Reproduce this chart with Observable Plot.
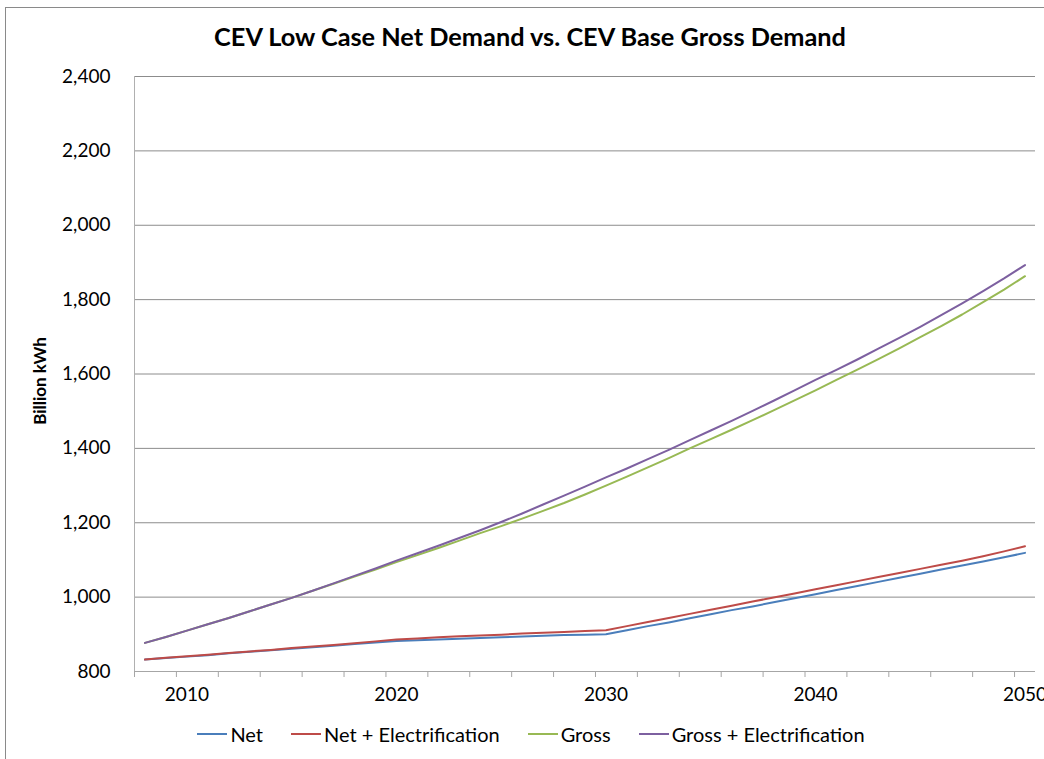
<!DOCTYPE html>
<html>
<head>
<meta charset="utf-8">
<script src="https://cdn.jsdelivr.net/npm/d3@7"></script>
<script src="https://cdn.jsdelivr.net/npm/@observablehq/plot@0.6"></script>
<style>
  html, body { margin: 0; padding: 0; background: #fff; }
  #wrap { position: relative; width: 1044px; height: 759px; overflow: hidden; font-family: Lato, "Open Sans", sans-serif; }
  #frame { position: absolute; left: 5px; top: 7px; width: 1100px; height: 800px; border-left: 1px solid #8a8a8a; border-top: 1px solid #8a8a8a; }
  #chart { position: absolute; left: 0; top: 0; }
  #legend { position: absolute; left: 0; top: 722px; width: 1062px; display: flex; justify-content: center; align-items: center; font-size: 20px; color: #000; }
  .item { display: flex; align-items: center; margin: 0 14px; }
  .item svg { margin-right: 3px; }
</style>
</head>
<body>
<div id="wrap">
  <div id="frame"></div>
  <div id="chart"></div>
  <div id="legend"></div>
</div>
<script>
const title = "CEV Low Case Net Demand vs. CEV Base Gross Demand";
const yTitle = "Billion kWh";
const years = [2008,2009,2010,2011,2012,2013,2014,2015,2016,2017,2018,2019,2020,2021,2022,2023,2024,2025,2026,2027,2028,2029,2030,2031,2032,2033,2034,2035,2036,2037,2038,2039,2040,2041,2042,2043,2044,2045,2046,2047,2048,2049,2050];
const net = [832,836,840,844,849,853,857,861,865,869,874,878,882,884,886,888,890,892,894,896,898,899,900,911,922,932,943,954,965,975,986,997,1008,1019,1030,1041,1052,1063,1074,1085,1096,1107,1119];
const netElec = [832,837,841,845,850,854,858,863,867,871,876,881,886,889,892,895,897,899,902,904,906,909,911,922,933,944,955,966,977,988,999,1010,1021,1032,1043,1054,1065,1076,1087,1098,1110,1123,1137];
const gross = [877,893,910,927,944,962,980,998,1017,1036,1055,1074,1094,1113,1132,1152,1172,1191,1211,1232,1253,1276,1300,1324,1349,1374,1400,1425,1450,1476,1502,1529,1556,1584,1612,1640,1669,1699,1729,1760,1793,1827,1863];
const grossElec = [877,893,910,927,944,962,980,998,1017,1037,1057,1077,1098,1118,1138,1159,1180,1202,1225,1249,1273,1297,1322,1346,1371,1396,1422,1448,1474,1501,1528,1556,1584,1611,1639,1668,1697,1727,1758,1790,1823,1857,1893];
const seriesNames = ["Net", "Net + Electrification", "Gross", "Gross + Electrification"];
const seriesColors = ["#4a7ebb", "#be4b48", "#98b954", "#7d60a0"];
const yTicks = [800,1000,1200,1400,1600,1800,2000,2200,2400];
const xLabels = [2010,2020,2030,2040,2050];
const xTickMarks = [2007.5,2009.5,2011.5,2013.5,2015.5,2017.5,2019.5,2021.5,2023.5,2025.5,2027.5,2029.5,2031.5,2033.5,2035.5,2037.5,2039.5,2041.5,2043.5,2045.5,2047.5,2049.5];

const seriesValues = [net, netElec, gross, grossElec];
const data = seriesNames.flatMap((s, i) => years.map((yr, j) => ({series: s, year: yr, value: seriesValues[i][j]})));

const chart = Plot.plot({
  width: 1044,
  height: 759,
  marginLeft: 134,
  marginRight: 9,
  marginTop: 76,
  marginBottom: 88,
  x: {domain: [2007.5, 2050.5]},
  y: {domain: [800, 2400]},
  color: {domain: seriesNames, range: seriesColors},
  style: {fontFamily: "Lato, 'Open Sans', sans-serif", fontSize: "19px", color: "#000", background: "transparent", overflow: "visible"},
  marks: [
    Plot.ruleY(yTicks.slice(1), {stroke: "#8c8c8c", strokeWidth: 1}),
    Plot.ruleY([800], {stroke: "#a6a6a6", strokeWidth: 1}),
    Plot.ruleX([2007.5], {stroke: "#b0b0b0", strokeWidth: 1}),
    Plot.axisY({ticks: yTicks, tickSize: 0, tickPadding: 24, tickFormat: d3.format(","), label: null, fontSize: 19}),
    Plot.axisX({ticks: xTickMarks, tickSize: 6, tickFormat: () => "", label: null, stroke: "#a6a6a6"}),
    Plot.axisX({ticks: xLabels, tickSize: 0, tickPadding: 16, tickFormat: d => String(d), label: null, fontSize: 19}),
    Plot.line(data, {x: "year", y: "value", stroke: "series", z: "series", strokeWidth: 2}),
    Plot.text([title], {frameAnchor: "top", dx: -55, dy: -48, fontSize: 25.3, fontWeight: "bold", fill: "#000"}),
    Plot.text([yTitle], {frameAnchor: "left", textAnchor: "middle", lineAnchor: "middle", dx: -94, dy: 7, rotate: -90, fontSize: 17, fontWeight: "bold", fill: "#000"})
  ]
});
document.getElementById("chart").appendChild(chart);

const legend = document.getElementById("legend");
seriesNames.forEach((name, i) => {
  const item = document.createElement("div");
  item.className = "item";
  item.innerHTML = `<svg width="30" height="4"><line x1="0" y1="2" x2="30" y2="2" stroke="${seriesColors[i]}" stroke-width="2"/></svg><span>${name}</span>`;
  legend.appendChild(item);
});
</script>
</body>
</html>
